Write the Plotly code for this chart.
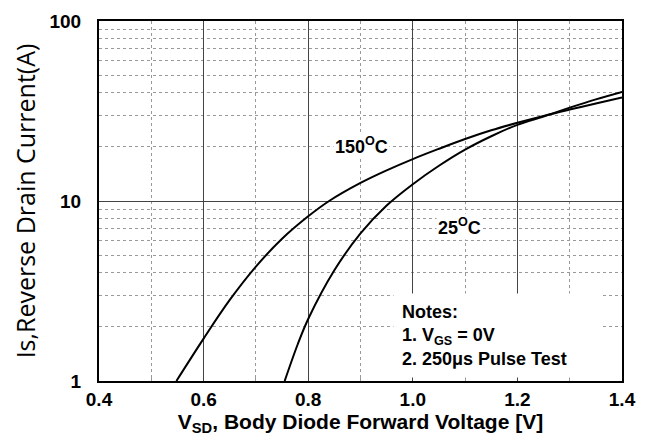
import plotly.graph_objects as go

# 150 °C curve
v_150 = [0.548, 0.60, 0.65, 0.70, 0.75, 0.80, 0.84, 0.90, 0.95, 1.00, 1.05, 1.10, 1.15, 1.20, 1.25, 1.30, 1.35, 1.40]
i_150 = [1.0, 1.72, 2.82, 4.32, 6.17, 8.22, 10.0, 12.6, 14.8, 17.1, 19.5, 22.1, 24.7, 27.2, 29.7, 32.2, 34.8, 37.6]

# 25 °C curve
v_25 = [0.755, 0.78, 0.80, 0.85, 0.90, 0.95, 1.00, 1.05, 1.10, 1.15, 1.20, 1.25, 1.30, 1.35, 1.40]
i_25 = [1.0, 1.60, 2.21, 4.12, 6.61, 9.44, 12.4, 15.7, 19.3, 22.9, 26.5, 29.5, 33.0, 36.7, 40.4]

x_ticks = [0.4, 0.6, 0.8, 1.0, 1.2, 1.4]
x_minor = [0.5, 0.7, 0.9, 1.1, 1.3]
y_ticks = [1, 10, 100]
y_minor = [2, 3, 4, 5, 6, 7, 8, 9, 20, 30, 40, 50, 60, 70, 80, 90]

fig = go.Figure()
fig.add_trace(go.Scatter(x=v_150, y=i_150, mode="lines", line=dict(color="black", width=2, shape="spline"),
                         name="150°C", showlegend=False))
fig.add_trace(go.Scatter(x=v_25, y=i_25, mode="lines", line=dict(color="black", width=2, shape="spline"),
                         name="25°C", showlegend=False))

lab = dict(family="Liberation Sans, Arial", size=18, color="black")

fig.add_annotation(x=0.9026, y=1.31, xref="x", yref="y", text="<b>150<sup>O</sup>C</b>",
                   showarrow=False, bgcolor="white", font=lab)
fig.add_annotation(x=1.090, y=0.86, xref="x", yref="y", text="<b>25<sup>O</sup>C</b>",
                   showarrow=False, bgcolor="white", font=lab)
fig.add_annotation(x=0.963, y=0.49, xref="x", yref="y", xanchor="left", yanchor="top", align="left",
                   text="<b>Notes:<br>1. V<sub>GS</sub> = 0V<br>2. 250μs Pulse Test</b>",
                   showarrow=False, bgcolor="white", borderpad=8, width=192,
                   font=dict(family="Liberation Sans, Arial", size=18, color="black"))

fig.update_xaxes(
    range=[0.4, 1.4], tickvals=x_ticks, ticktext=[f"{v:.1f}" for v in x_ticks],
    showgrid=True, gridcolor="#444", gridwidth=1,
    minor=dict(tickvals=x_minor, showgrid=True, gridcolor="#999", griddash="dot", gridwidth=1,
               ticks="inside", ticklen=6, tickcolor="#999"),
    ticks="inside", ticklen=7, tickcolor="#444",
    showline=True, linecolor="black", linewidth=2, mirror=True,
    tickfont=dict(family="Liberation Sans, Arial", size=19, color="black", weight="bold"),
    title=dict(text="<b>V<sub>SD</sub>, Body Diode Forward Voltage [V]</b>",
               font=dict(family="Liberation Sans, Arial", size=21, color="black"), standoff=3),
    zeroline=False, automargin=False,
)
fig.update_yaxes(
    type="log", range=[0, 2], tickvals=y_ticks, ticktext=[str(v) for v in y_ticks],
    showgrid=True, gridcolor="#444", gridwidth=1,
    minor=dict(tickvals=y_minor, showgrid=True, gridcolor="#999", griddash="dot", gridwidth=1),
    showline=True, linecolor="black", linewidth=2, mirror=True,
    ticks="", ticklabelstandoff=12,
    tickfont=dict(family="Liberation Sans, Arial", size=19, color="black", weight="bold"),
    title=dict(text="Is,Reverse Drain Current(A)",
               font=dict(family="Open Sans, Noto Sans", size=25, color="black"), standoff=12),
    zeroline=False, automargin=False,
)
# the page body adds an 8 px offset, so margins are set relative to it
fig.update_layout(
    width=654, height=437,
    margin=dict(l=91, r=40, t=13, b=64),
    plot_bgcolor="white", paper_bgcolor="white",
    showlegend=False,
)
fig.write_html("out.html")
